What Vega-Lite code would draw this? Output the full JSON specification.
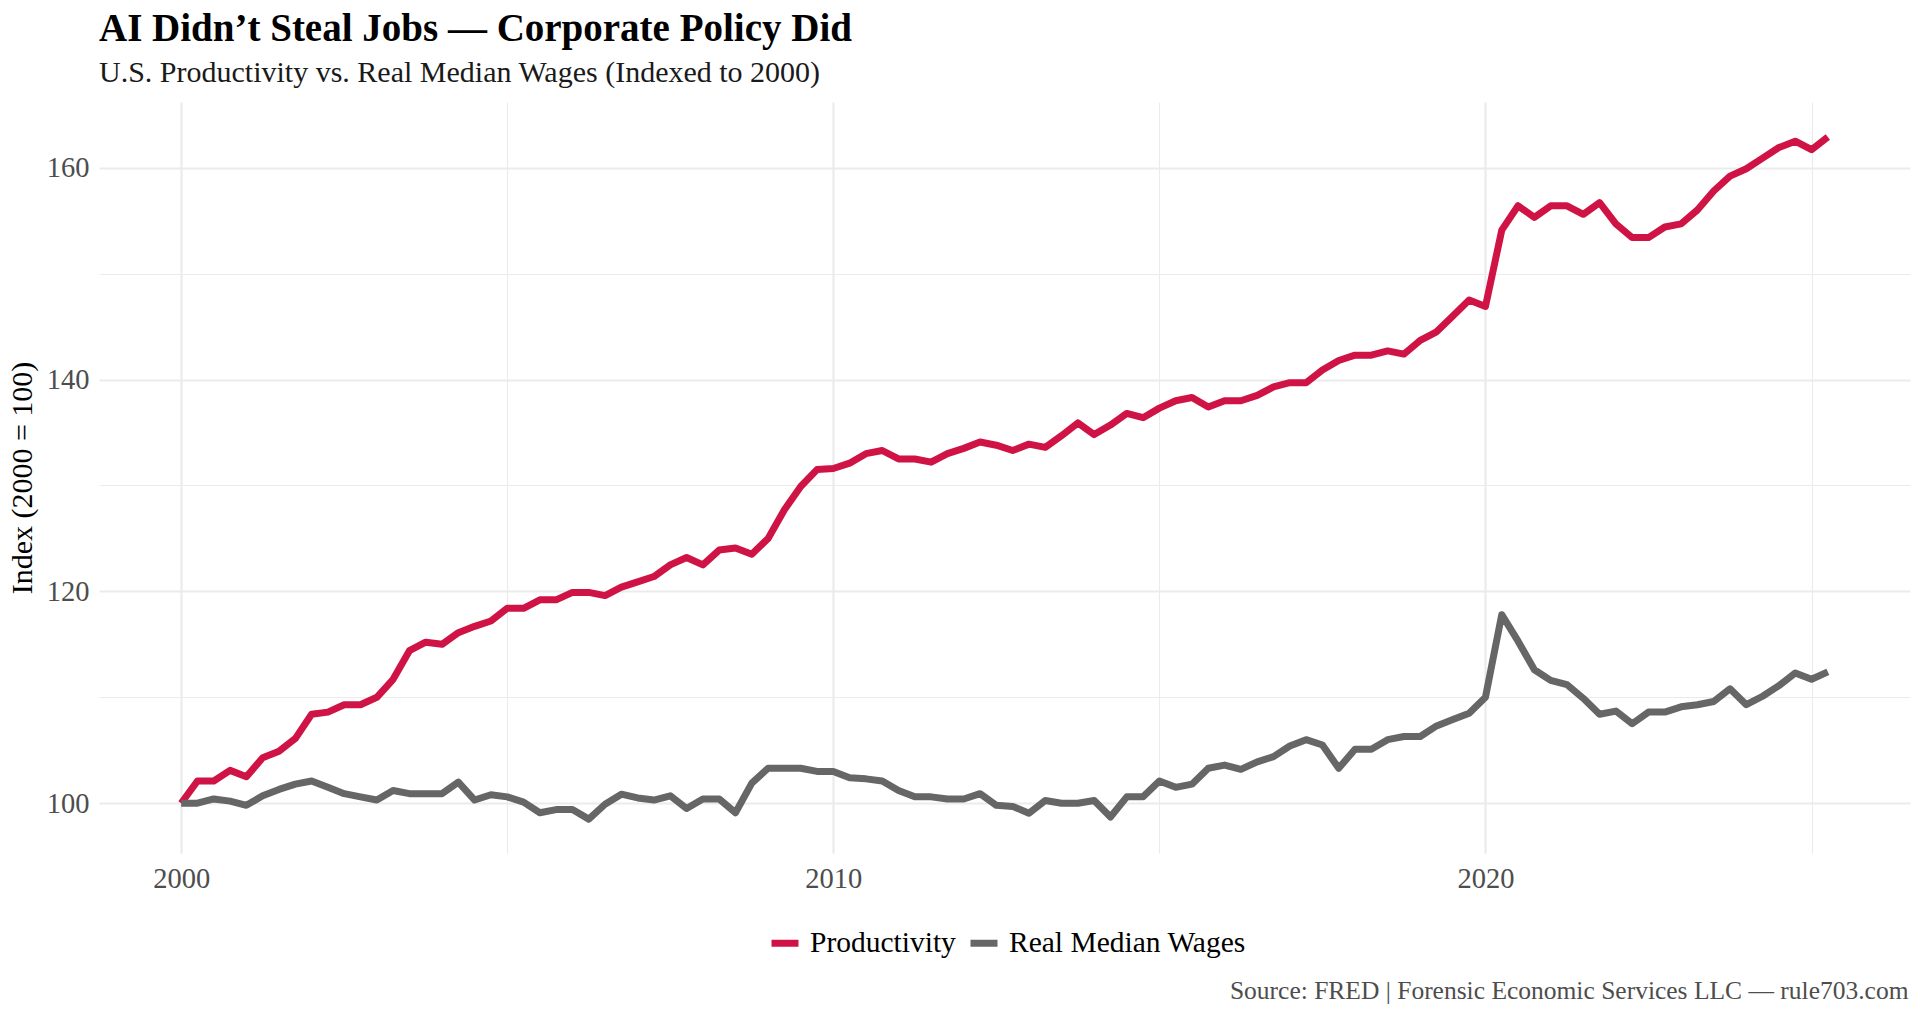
{
  "$schema": "https://vega.github.io/schema/vega-lite/v6.json",
  "width": 1811,
  "height": 751,
  "autosize": {"type": "none"},
  "padding": {"left": 99, "top": 102, "right": 10, "bottom": 164},
  "background": "white",
  "title": {
    "text": "AI Didn’t Steal Jobs — Corporate Policy Did",
    "subtitle": "U.S. Productivity vs. Real Median Wages (Indexed to 2000)",
    "anchor": "start",
    "frame": "group",
    "font": "Liberation Serif",
    "fontSize": 39,
    "fontWeight": "bold",
    "color": "#000000",
    "subtitleFont": "Liberation Serif",
    "subtitleFontSize": 30,
    "subtitleColor": "#1a1a1a",
    "subtitlePadding": 9,
    "offset": 14
  },
  "data": {
    "values": [
      {"year": 2000.00, "Productivity": 100.0, "Real Median Wages": 100.0},
      {"year": 2000.25, "Productivity": 102.1, "Real Median Wages": 100.0},
      {"year": 2000.50, "Productivity": 102.1, "Real Median Wages": 100.4},
      {"year": 2000.75, "Productivity": 103.1, "Real Median Wages": 100.2},
      {"year": 2001.00, "Productivity": 102.5, "Real Median Wages": 99.8},
      {"year": 2001.25, "Productivity": 104.3, "Real Median Wages": 100.7},
      {"year": 2001.50, "Productivity": 104.9, "Real Median Wages": 101.3},
      {"year": 2001.75, "Productivity": 106.1, "Real Median Wages": 101.8},
      {"year": 2002.00, "Productivity": 108.4, "Real Median Wages": 102.1},
      {"year": 2002.25, "Productivity": 108.6, "Real Median Wages": 101.5},
      {"year": 2002.50, "Productivity": 109.3, "Real Median Wages": 100.9},
      {"year": 2002.75, "Productivity": 109.3, "Real Median Wages": 100.6},
      {"year": 2003.00, "Productivity": 110.0, "Real Median Wages": 100.3},
      {"year": 2003.25, "Productivity": 111.7, "Real Median Wages": 101.2},
      {"year": 2003.50, "Productivity": 114.4, "Real Median Wages": 100.9},
      {"year": 2003.75, "Productivity": 115.2, "Real Median Wages": 100.9},
      {"year": 2004.00, "Productivity": 115.0, "Real Median Wages": 100.9},
      {"year": 2004.25, "Productivity": 116.1, "Real Median Wages": 102.0},
      {"year": 2004.50, "Productivity": 116.7, "Real Median Wages": 100.3},
      {"year": 2004.75, "Productivity": 117.2, "Real Median Wages": 100.8},
      {"year": 2005.00, "Productivity": 118.4, "Real Median Wages": 100.6},
      {"year": 2005.25, "Productivity": 118.4, "Real Median Wages": 100.1},
      {"year": 2005.50, "Productivity": 119.2, "Real Median Wages": 99.1},
      {"year": 2005.75, "Productivity": 119.2, "Real Median Wages": 99.4},
      {"year": 2006.00, "Productivity": 119.9, "Real Median Wages": 99.4},
      {"year": 2006.25, "Productivity": 119.9, "Real Median Wages": 98.5},
      {"year": 2006.50, "Productivity": 119.6, "Real Median Wages": 99.9},
      {"year": 2006.75, "Productivity": 120.4, "Real Median Wages": 100.85},
      {"year": 2007.00, "Productivity": 120.9, "Real Median Wages": 100.5},
      {"year": 2007.25, "Productivity": 121.4, "Real Median Wages": 100.3},
      {"year": 2007.50, "Productivity": 122.5, "Real Median Wages": 100.7},
      {"year": 2007.75, "Productivity": 123.2, "Real Median Wages": 99.5},
      {"year": 2008.00, "Productivity": 122.5, "Real Median Wages": 100.4},
      {"year": 2008.25, "Productivity": 123.9, "Real Median Wages": 100.4},
      {"year": 2008.50, "Productivity": 124.1, "Real Median Wages": 99.1},
      {"year": 2008.75, "Productivity": 123.5, "Real Median Wages": 101.9},
      {"year": 2009.00, "Productivity": 125.0, "Real Median Wages": 103.3},
      {"year": 2009.25, "Productivity": 127.7, "Real Median Wages": 103.3},
      {"year": 2009.50, "Productivity": 129.9, "Real Median Wages": 103.3},
      {"year": 2009.75, "Productivity": 131.5, "Real Median Wages": 103.0},
      {"year": 2010.00, "Productivity": 131.6, "Real Median Wages": 103.0},
      {"year": 2010.25, "Productivity": 132.1, "Real Median Wages": 102.4},
      {"year": 2010.50, "Productivity": 133.0, "Real Median Wages": 102.3},
      {"year": 2010.75, "Productivity": 133.3, "Real Median Wages": 102.1},
      {"year": 2011.00, "Productivity": 132.5, "Real Median Wages": 101.2},
      {"year": 2011.25, "Productivity": 132.5, "Real Median Wages": 100.6},
      {"year": 2011.50, "Productivity": 132.2, "Real Median Wages": 100.6},
      {"year": 2011.75, "Productivity": 133.0, "Real Median Wages": 100.4},
      {"year": 2012.00, "Productivity": 133.5, "Real Median Wages": 100.4},
      {"year": 2012.25, "Productivity": 134.1, "Real Median Wages": 100.9},
      {"year": 2012.50, "Productivity": 133.8, "Real Median Wages": 99.8},
      {"year": 2012.75, "Productivity": 133.3, "Real Median Wages": 99.7},
      {"year": 2013.00, "Productivity": 133.9, "Real Median Wages": 99.05},
      {"year": 2013.25, "Productivity": 133.6, "Real Median Wages": 100.25},
      {"year": 2013.50, "Productivity": 134.7, "Real Median Wages": 100.0},
      {"year": 2013.75, "Productivity": 135.9, "Real Median Wages": 100.0},
      {"year": 2014.00, "Productivity": 134.8, "Real Median Wages": 100.25},
      {"year": 2014.25, "Productivity": 135.7, "Real Median Wages": 98.7},
      {"year": 2014.50, "Productivity": 136.8, "Real Median Wages": 100.6},
      {"year": 2014.75, "Productivity": 136.4, "Real Median Wages": 100.6},
      {"year": 2015.00, "Productivity": 137.3, "Real Median Wages": 102.1},
      {"year": 2015.25, "Productivity": 138.0, "Real Median Wages": 101.5},
      {"year": 2015.50, "Productivity": 138.3, "Real Median Wages": 101.8},
      {"year": 2015.75, "Productivity": 137.4, "Real Median Wages": 103.3},
      {"year": 2016.00, "Productivity": 138.0, "Real Median Wages": 103.6},
      {"year": 2016.25, "Productivity": 138.0, "Real Median Wages": 103.2},
      {"year": 2016.50, "Productivity": 138.5, "Real Median Wages": 103.9},
      {"year": 2016.75, "Productivity": 139.3, "Real Median Wages": 104.4},
      {"year": 2017.00, "Productivity": 139.7, "Real Median Wages": 105.4},
      {"year": 2017.25, "Productivity": 139.7, "Real Median Wages": 106.0},
      {"year": 2017.50, "Productivity": 140.9, "Real Median Wages": 105.5},
      {"year": 2017.75, "Productivity": 141.8, "Real Median Wages": 103.3},
      {"year": 2018.00, "Productivity": 142.3, "Real Median Wages": 105.1},
      {"year": 2018.25, "Productivity": 142.3, "Real Median Wages": 105.1},
      {"year": 2018.50, "Productivity": 142.7, "Real Median Wages": 106.0},
      {"year": 2018.75, "Productivity": 142.4, "Real Median Wages": 106.3},
      {"year": 2019.00, "Productivity": 143.7, "Real Median Wages": 106.3},
      {"year": 2019.25, "Productivity": 144.5, "Real Median Wages": 107.3},
      {"year": 2019.50, "Productivity": 146.0, "Real Median Wages": 107.9},
      {"year": 2019.75, "Productivity": 147.5, "Real Median Wages": 108.5},
      {"year": 2020.00, "Productivity": 146.9, "Real Median Wages": 110.0},
      {"year": 2020.25, "Productivity": 154.1, "Real Median Wages": 117.8},
      {"year": 2020.50, "Productivity": 156.4, "Real Median Wages": 115.3},
      {"year": 2020.75, "Productivity": 155.3, "Real Median Wages": 112.6},
      {"year": 2021.00, "Productivity": 156.4, "Real Median Wages": 111.6},
      {"year": 2021.25, "Productivity": 156.4, "Real Median Wages": 111.2},
      {"year": 2021.50, "Productivity": 155.6, "Real Median Wages": 109.9},
      {"year": 2021.75, "Productivity": 156.7, "Real Median Wages": 108.4},
      {"year": 2022.00, "Productivity": 154.7, "Real Median Wages": 108.7},
      {"year": 2022.25, "Productivity": 153.4, "Real Median Wages": 107.5},
      {"year": 2022.50, "Productivity": 153.4, "Real Median Wages": 108.6},
      {"year": 2022.75, "Productivity": 154.4, "Real Median Wages": 108.6},
      {"year": 2023.00, "Productivity": 154.7, "Real Median Wages": 109.1},
      {"year": 2023.25, "Productivity": 156.0, "Real Median Wages": 109.3},
      {"year": 2023.50, "Productivity": 157.8, "Real Median Wages": 109.6},
      {"year": 2023.75, "Productivity": 159.2, "Real Median Wages": 110.8},
      {"year": 2024.00, "Productivity": 159.9, "Real Median Wages": 109.3},
      {"year": 2024.25, "Productivity": 160.9, "Real Median Wages": 110.1},
      {"year": 2024.50, "Productivity": 161.9, "Real Median Wages": 111.1},
      {"year": 2024.75, "Productivity": 162.5, "Real Median Wages": 112.3},
      {"year": 2025.00, "Productivity": 161.7, "Real Median Wages": 111.7},
      {"year": 2025.25, "Productivity": 162.9, "Real Median Wages": 112.4}
    ]
  },
  "transform": [{"fold": ["Productivity", "Real Median Wages"], "as": ["series", "value"]}],
  "mark": {"type": "line", "strokeWidth": 7, "strokeJoin": "round"},
  "encoding": {
    "x": {
      "field": "year",
      "type": "quantitative",
      "scale": {"domain": [1998.74, 2026.51], "nice": false, "zero": false},
      "axis": {
        "values": [2000, 2005, 2010, 2015, 2020, 2025],
        "format": "d",
        "labelExpr": "datum.value % 10 === 0 ? datum.label : ''",
        "domain": false,
        "ticks": false,
        "tickSize": 0,
        "grid": true,
        "gridColor": "#EBEBEB",
        "gridWidth": {"condition": {"test": "datum.value % 10 === 0", "value": 2.2}, "value": 1.1},
        "labelFont": "Liberation Serif",
        "labelFontSize": 28.5,
        "labelColor": "#4D4D4D",
        "labelPadding": 11,
        "labelFlush": false,
        "labelOverlap": false,
        "title": "Source: FRED | Forensic Economic Services LLC — rule703.com",
        "titleFont": "Liberation Serif",
        "titleFontSize": 25.5,
        "titleFontWeight": "normal",
        "titleColor": "#4D4D4D",
        "titleAnchor": "end",
        "titleAlign": "right",
        "titleBaseline": "alphabetic",
        "titleX": 1809,
        "titleY": 145
      }
    },
    "y": {
      "field": "value",
      "type": "quantitative",
      "scale": {"domain": [95.3, 166.2], "nice": false, "zero": false},
      "axis": {
        "values": [100, 110, 120, 130, 140, 150, 160],
        "labelExpr": "datum.value % 20 === 0 ? datum.label : ''",
        "domain": false,
        "ticks": false,
        "tickSize": 0,
        "grid": true,
        "gridColor": "#EBEBEB",
        "gridWidth": {"condition": {"test": "datum.value % 20 === 0", "value": 2.2}, "value": 1.1},
        "labelFont": "Liberation Serif",
        "labelFontSize": 28.5,
        "labelColor": "#4D4D4D",
        "labelPadding": 10,
        "labelFlush": false,
        "labelOverlap": false,
        "title": "Index (2000 = 100)",
        "titleFont": "Liberation Serif",
        "titleFontSize": 30,
        "titleFontWeight": "normal",
        "titleColor": "#000000",
        "titleAngle": 270,
        "titleAlign": "center",
        "titleBaseline": "middle",
        "titleX": -77,
        "titleY": 375.5
      }
    },
    "color": {
      "field": "series",
      "type": "nominal",
      "scale": {"domain": ["Productivity", "Real Median Wages"], "range": ["#D01345", "#666666"]},
      "legend": {
        "title": null,
        "orient": "none",
        "legendX": 669,
        "legendY": 824,
        "direction": "horizontal",
        "symbolType": "stroke",
        "symbolStrokeWidth": 7,
        "symbolSize": 729,
        "labelFont": "Liberation Serif",
        "labelFontSize": 29.5,
        "labelColor": "#000000",
        "labelOffset": 8,
        "labelLimit": 500,
        "columnPadding": 0
      }
    }
  },
  "config": {"view": {"stroke": null}}
}
